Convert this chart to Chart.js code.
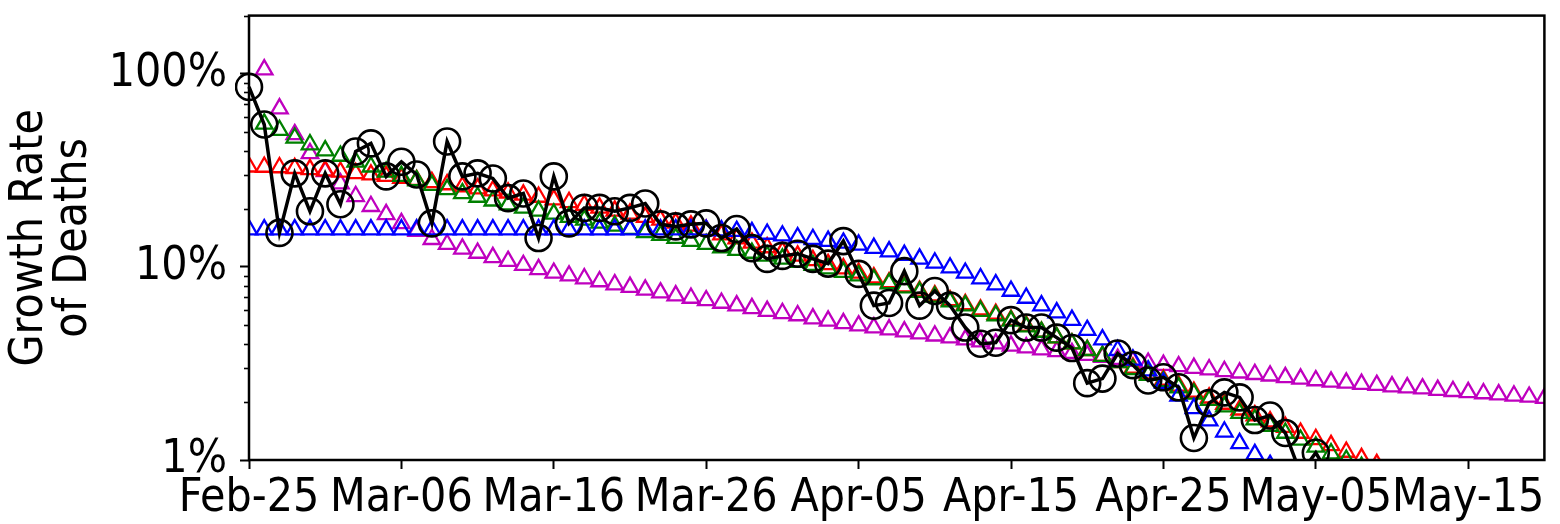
<!DOCTYPE html>
<html>
<head>
<meta charset="utf-8">
<title>Growth rate of deaths</title>
<script src="https://cdn.jsdelivr.net/npm/chart.js@4.4.1/dist/chart.umd.min.js"></script>
<style>
  html, body { margin: 0; padding: 0; background: #fff; }
  .chart { position: relative; width: 1560px; height: 524px; }
</style>
</head>
<body>
<div class="chart"><canvas id="growth"></canvas></div>
<script>
// days counted from Feb-25
const tickDays = [0, 10, 20, 30, 40, 50, 60, 70, 80];
const tickLabels = ['Feb-25', 'Mar-06', 'Mar-16', 'Mar-26', 'Apr-05', 'Apr-15', 'Apr-25', 'May-05', 'May-15'];
const yTicks = [1, 10, 100];

// daily growth rate of deaths, in %
const observedStart = 0;
const observed = [
  85.5, 54.6, 15.0, 30.5, 19.4, 30.5, 21.1, 39.6, 43.6, 29.4,
  35.0, 30.1, 16.8, 44.6, 29.4, 30.5, 28.7, 22.7, 24.0, 14.1,
  29.4, 16.8, 20.2, 20.2, 19.4, 20.2, 21.3, 16.6, 16.2, 16.6,
  16.8, 14.1, 15.7, 12.5, 11.0, 11.4, 11.7, 11.0, 10.4, 13.6,
  9.2, 6.3, 6.5, 9.5, 6.3, 7.5, 6.3, 4.85, 4.0, 4.05,
  5.3, 4.85, 4.85, 4.3, 3.8, 2.5, 2.64, 3.56, 3.1, 2.58,
  2.68, 2.38, 1.3, 1.97, 2.24, 2.11, 1.61, 1.7, 1.38, 0.85,
  1.09, 0.8,
];

const redStart = 0;
const redFit = [
  33.0, 32.9, 32.7, 32.4, 32.0, 31.5, 31.0, 30.5, 30.0, 29.5,
  28.8, 28.1, 27.4, 26.7, 26.0, 25.4, 24.8, 24.2, 23.6, 23.0,
  22.3, 21.6, 20.9, 20.2, 19.5, 18.8, 18.1, 17.5, 16.9, 16.3,
  15.5, 14.7, 14.0, 13.3, 12.6, 12.0, 11.4, 10.8, 10.3, 9.8,
  9.3, 8.8, 8.3, 7.9, 7.5, 7.1, 6.7, 6.4, 6.0, 5.7,
  5.3, 4.95, 4.6, 4.3, 4.0, 3.7, 3.45, 3.2, 3.0, 2.8,
  2.6, 2.42, 2.25, 2.1, 1.95, 1.82, 1.7, 1.58, 1.48, 1.38,
  1.28, 1.19, 1.1, 1.02, 0.95,
];

const greenStart = 1;
const greenFit = [
  55.0, 51.0, 46.5, 43.0, 40.0, 37.5, 35.0, 33.0, 31.0,
  29.5, 28.0, 26.5, 25.2, 24.0, 23.0, 22.0, 21.0, 20.2, 19.5,
  18.8, 18.1, 17.5, 16.9, 16.3, 15.7, 15.1, 14.6, 14.1, 13.6,
  13.1, 12.6, 12.2, 11.8, 11.4, 11.0, 10.6, 10.2, 9.8, 9.4,
  9.0, 8.6, 8.2, 7.8, 7.4, 7.0, 6.6, 6.3, 5.9, 5.6,
  5.25, 4.9, 4.6, 4.3, 4.0, 3.7, 3.45, 3.2, 2.95, 2.75,
  2.55, 2.37, 2.2, 2.04, 1.89, 1.75, 1.62, 1.5, 1.38, 1.27,
  1.17, 1.08, 1.0, 0.92,
];

const blueStart = 0;
const blueFit = [
  15.6, 15.6, 15.6, 15.6, 15.6, 15.6, 15.6, 15.6, 15.6, 15.6,
  15.6, 15.6, 15.6, 15.6, 15.6, 15.6, 15.6, 15.6, 15.6, 15.6,
  15.6, 15.6, 15.6, 15.6, 15.6, 15.6, 15.6, 15.6, 15.6, 15.6,
  15.5, 15.4, 15.3, 15.1, 14.8, 14.5, 14.2, 13.9, 13.6, 13.3,
  13.0, 12.5, 12.0, 11.5, 11.0, 10.5, 9.9, 9.3, 8.7, 8.1,
  7.5, 6.9, 6.3, 5.8, 5.3, 4.7, 4.2, 3.7, 3.3, 2.9,
  2.5, 2.15, 1.85, 1.6, 1.4, 1.22, 1.07, 0.94,
];

const magentaStart = 1;
const magentaFit = [
  105, 66.0, 48.5, 38.7, 31.2, 27.0, 23.2, 20.6, 18.7,
  16.8, 15.3, 13.9, 13.1, 12.4, 11.8, 11.2, 10.7, 10.2, 9.7,
  9.3, 9.0, 8.7, 8.4, 8.1, 7.85, 7.6, 7.35, 7.1, 6.9,
  6.7, 6.5, 6.3, 6.1, 5.9, 5.75, 5.6, 5.4, 5.25, 5.1,
  4.96, 4.85, 4.73, 4.62, 4.51, 4.4, 4.3, 4.2, 4.1, 4.0,
  3.9, 3.82, 3.73, 3.65, 3.57, 3.49, 3.41, 3.33, 3.25, 3.18,
  3.1, 3.05, 2.99, 2.94, 2.88, 2.83, 2.78, 2.73, 2.68, 2.63,
  2.58, 2.54, 2.51, 2.47, 2.44, 2.4, 2.37, 2.34, 2.3, 2.27,
  2.24, 2.21, 2.18, 2.15, 2.12, 2.09,
];

const toPoints = (start, values) => values.map((v, i) => ({ x: start + i, y: v }));

Chart.defaults.font.family = "'DejaVu Sans Condensed', 'DejaVu Sans', sans-serif";
Chart.defaults.color = '#000';

function triangles(values, start, color) {
  return {
    data: toPoints(start, values),
    showLine: false,
    pointStyle: 'triangle',
    pointRadius: 9.5,
    pointBorderWidth: 2.3,
    pointBorderColor: color,
    pointBackgroundColor: 'rgba(0,0,0,0)',
    clip: 0,
  };
}

// frame around the plot and the short minor ticks of the log axis
const frame = {
  id: 'frame',
  afterDatasetsDraw(chart) {
    const { ctx, chartArea } = chart;
    const y = chart.scales.y;
    ctx.save();
    ctx.strokeStyle = '#000';
    ctx.lineWidth = 1.6;
    for (let d = 1; d <= 100; d *= 10) {
      for (let k = 2; k <= 9; k++) {
        const v = k * d;
        if (v > y.max) continue;
        const py = Math.round(y.getPixelForValue(v)) + 0.5;
        ctx.beginPath();
        ctx.moveTo(chartArea.left - 5, py);
        ctx.lineTo(chartArea.left, py);
        ctx.stroke();
      }
    }
    ctx.lineWidth = 2.5;
    ctx.strokeRect(chartArea.left, chartArea.top, chartArea.right - chartArea.left, chartArea.bottom - chartArea.top);
    ctx.restore();
  },
};

new Chart(document.getElementById('growth'), {
  type: 'line',
  data: {
    datasets: [
      {
        data: toPoints(observedStart, observed),
        borderColor: '#000',
        borderWidth: 3.5,
        tension: 0,
        pointStyle: 'circle',
        pointRadius: 13,
        pointBorderWidth: 2.6,
        pointBorderColor: '#000',
        pointBackgroundColor: 'rgba(0,0,0,0)',
        clip: { left: 14, top: 0, right: 0, bottom: 0 },
      },
      triangles(blueFit, blueStart, '#0000ff'),
      triangles(greenFit, greenStart, '#008000'),
      triangles(redFit, redStart, '#ff0000'),
      triangles(magentaFit, magentaStart, '#bf00bf'),
    ],
  },
  options: {
    responsive: true,
    maintainAspectRatio: false,
    animation: false,
    layout: { padding: { top: 12, right: 12, left: 0, bottom: 0 } },
    plugins: {
      legend: { display: false },
      tooltip: { enabled: false },
    },
    scales: {
      x: {
        type: 'linear',
        min: 0,
        max: 85,
        afterBuildTicks: (scale) => {
          scale.ticks = tickDays.map((v) => ({ value: v }));
        },
        afterFit: (scale) => {
          scale.height = 64;
          scale.paddingLeft = 0;
          scale.paddingRight = 0;
        },
        ticks: {
          autoSkip: false,
          maxRotation: 0,
          padding: 2,
          font: { size: 46 },
          callback: (value) => tickLabels[tickDays.indexOf(value)],
        },
        grid: {
          drawOnChartArea: false,
          drawTicks: true,
          tickLength: 9,
          tickWidth: 2,
          tickColor: '#000',
        },
        border: { display: false },
      },
      y: {
        type: 'logarithmic',
        min: 1,
        max: 200,
        afterBuildTicks: (scale) => {
          scale.ticks = yTicks.map((v) => ({ value: v }));
        },
        afterFit: (scale) => {
          scale.width = 249;
          scale.paddingTop = 0;
          scale.paddingBottom = 0;
        },
        ticks: {
          padding: 13,
          font: { size: 46 },
          callback: (value) => Math.round(value) + '%',
        },
        grid: {
          drawOnChartArea: false,
          drawTicks: true,
          tickLength: 9,
          tickWidth: 2,
          tickColor: '#000',
        },
        border: { display: false },
        title: {
          display: true,
          text: ['Growth Rate', 'of Deaths'],
          font: { size: 46, lineHeight: 0.95 },
          padding: { top: 8, bottom: 0 },
        },
      },
    },
  },
  plugins: [frame],
});
</script>
</body>
</html>
